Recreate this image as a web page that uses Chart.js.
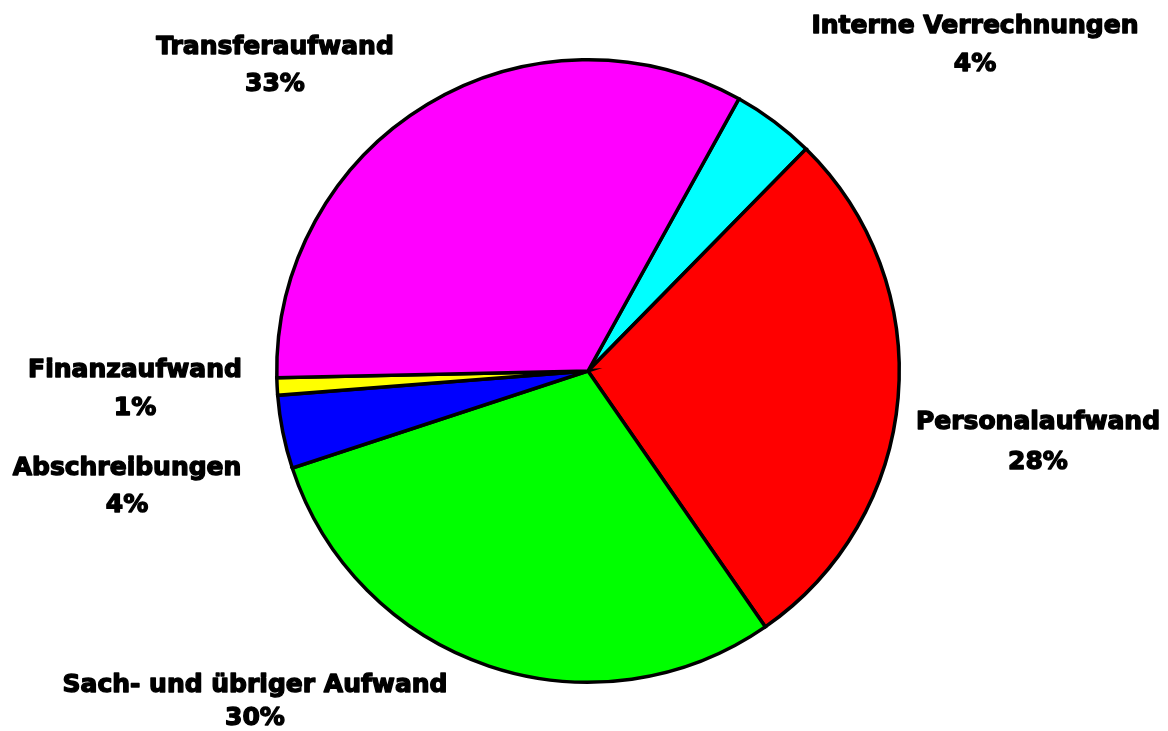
<!DOCTYPE html>
<html>
<head>
<meta charset="utf-8">
<script src="https://cdn.jsdelivr.net/npm/chart.js@4/dist/chart.umd.min.js"></script>
<style>
  html, body { margin: 0; padding: 0; background: #fff; }
  #wrap { width: 1168px; height: 731px; }
</style>
</head>
<body>
<div id="wrap"><canvas id="aufwandChart" width="1168" height="731"></canvas></div>
<script>
// Daten (Anteile in %, im Uhrzeigersinn ab "Interne Verrechnungen")
const kategorien = ['Interne Verrechnungen', 'Personalaufwand', 'Sach- und übriger Aufwand', 'Abschreibungen', 'Finanzaufwand', 'Transferaufwand'];
const anteile = [4.3, 28.0, 29.6, 3.8, 0.9, 33.4];
const farben = ['#00FFFF', '#FF0000', '#00FF00', '#0000FF', '#FFFF00', '#FF00FF'];

// Lage der Beschriftungen relativ zur Kreismitte (Pixel)
const labelOffsets = [[387, -326], [450, 71], [-333, 331], [-461, 116], [-453, 18], [-313, -305]];
const zeilenAbstand = [38, 40, 33, 37, 38, 37];

const labelPlugin = {
    id: 'aussenLabels',
    afterDraw(chart) {
        const ctx = chart.ctx;
        const meta = chart.getDatasetMeta(0);
        const total = anteile.reduce((a, b) => a + b, 0);
        ctx.save();
        ctx.font = 'bold 25px "DejaVu Sans"';
        ctx.textAlign = 'center';
        ctx.textBaseline = 'middle';
        ctx.fillStyle = '#000';
        ctx.strokeStyle = '#000';
        ctx.lineWidth = 1.4;
        ctx.lineJoin = 'round';
        meta.data.forEach((arc, i) => {
            const x = arc.x + labelOffsets[i][0];
            const y = arc.y + labelOffsets[i][1];
            const h = zeilenAbstand[i] / 2;
            const pct = Math.round(anteile[i] / total * 100) + '%';
            ctx.fillText(kategorien[i], x, y - h);
            ctx.strokeText(kategorien[i], x, y - h);
            ctx.fillText(pct, x, y + h);
            ctx.strokeText(pct, x, y + h);
        });
        ctx.restore();
    }
};

new Chart(document.getElementById('aufwandChart'), {
    type: 'pie',
    data: {
        labels: kategorien,
        datasets: [{
            data: anteile,
            backgroundColor: farben,
            borderColor: '#000',
            borderWidth: 3.5,
            borderJoinStyle: 'miter'
        }]
    },
    options: {
        responsive: false,
        animation: false,
        rotation: 29,
        layout: { padding: { top: 58, bottom: 47, left: 275, right: 267 } },
        plugins: {
            legend: { display: false },
            tooltip: { enabled: false }
        }
    },
    plugins: [labelPlugin]
});
</script>
</body>
</html>
